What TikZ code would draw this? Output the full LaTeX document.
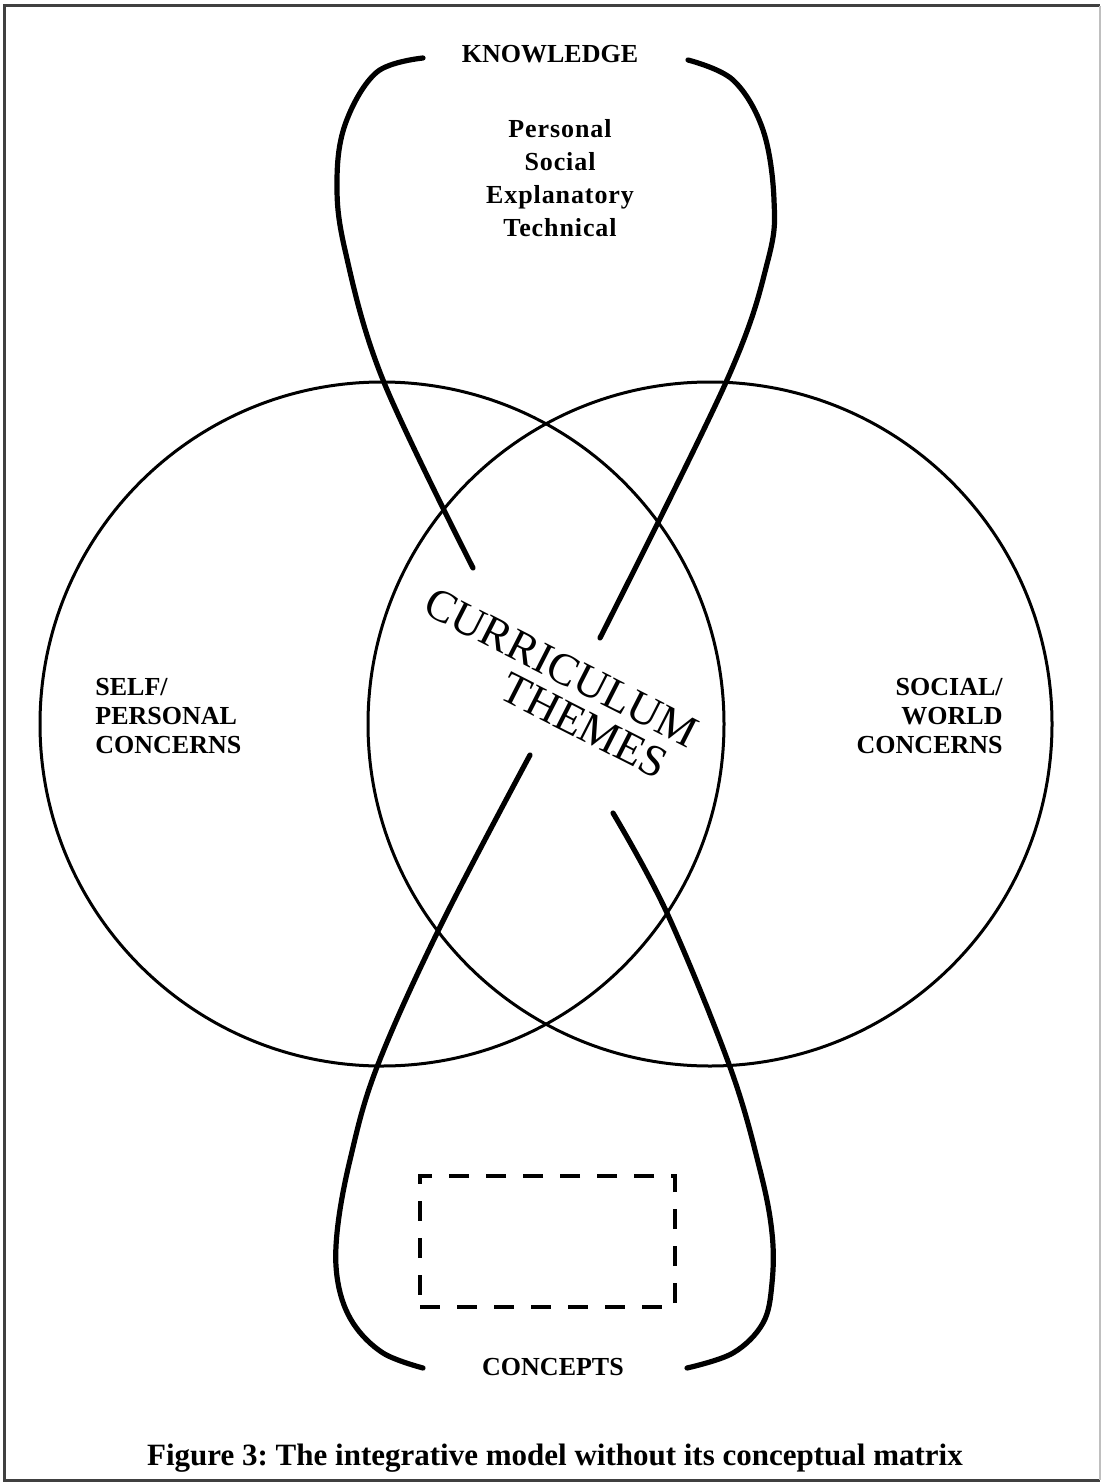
\documentclass[tikz,border=0pt]{standalone}
\usepackage{fontspec}
\setmainfont{Liberation Serif}
\usetikzlibrary{positioning}
\frenchspacing

\begin{document}
\begin{tikzpicture}[
  x=0.5pt, y=-0.5pt,
  ring/.style={draw, circle, line width=1.5pt, minimum size=342pt, inner sep=0pt},
  strand/.style={line width=2.6pt, line cap=round},
  caps/.style={font=\bfseries\fontsize{13}{14.5}\selectfont, inner sep=0pt},
  kind/.style={font=\bfseries\fontsize{13}{16.5}\selectfont\addfontfeatures{LetterSpace=3.5}, inner sep=0pt, align=center},
  theme/.style={font=\fontsize{22.5}{20.6}\selectfont, inner sep=0pt, rotate=-27, align=left},
  matrixbox/.style={draw, line width=2pt, dash pattern=on 10pt off 8.5pt, minimum width=127.5pt, minimum height=65.5pt, inner sep=0pt}
]
  \useasboundingbox (0,0) rectangle (1103,1482);

  % Frame
  \draw[line width=1.5pt, black!75] (1100,6) -- (4,6) -- (4,1480) -- (1100,1480);
  \draw[line width=1pt, black!25] (1100,6) -- (1100,1480);

  % Circles
  \node[ring] (selfring) at (382,724) {};
  \node[ring] (worldring) at (710,724) {};

  % Labels
  \node[caps, anchor=base] (knowledge) at (550,63) {KNOWLEDGE};
  \node[kind] (kinds) at (560,178) {Personal\\Social\\Explanatory\\Technical};
  \node[caps, align=left, anchor=west] (self) at (95,716) {SELF/\\PERSONAL\\CONCERNS};
  \node[caps, align=right, anchor=east] (world) at (1003,716) {SOCIAL/\\WORLD\\CONCERNS};
  \node[theme] (themes) at (552,686) {CURRICULUM\\\hspace*{53.5pt}THEMES};
  \node[caps, anchor=base] (concepts) at (553,1375) {CONCEPTS};
  \node[matrixbox] (cmatrix) at (547.5,1241.5) {};

  % Knowledge loop
  \draw[strand] plot[smooth, tension=0.6] coordinates {(423,58) (377,72) (346,122) (337,180) (345,250) (383,380) (473,568)};
  \draw[strand] plot[smooth, tension=0.6] coordinates {(688,60) (733,80) (763,130) (774,200) (768,260) (727,380) (600,638)};

  % Concepts loop
  \draw[strand] plot[smooth, tension=0.6] coordinates {(530,755) (440,927) (377,1067) (350,1160) (337,1233) (338,1283) (353,1323) (383,1353) (423,1368)};
  \draw[strand] plot[smooth, tension=0.6] coordinates {(613,813) (667,913) (730,1067) (760,1170) (772,1233) (772,1283) (763,1323) (733,1353) (687,1368)};

  % Caption
  \node[font=\bfseries\fontsize{15.5}{18}\selectfont, inner sep=0pt, anchor=base] (caption) at (555,1465) {Figure 3: The integrative model without its conceptual matrix};
\end{tikzpicture}
\end{document}
